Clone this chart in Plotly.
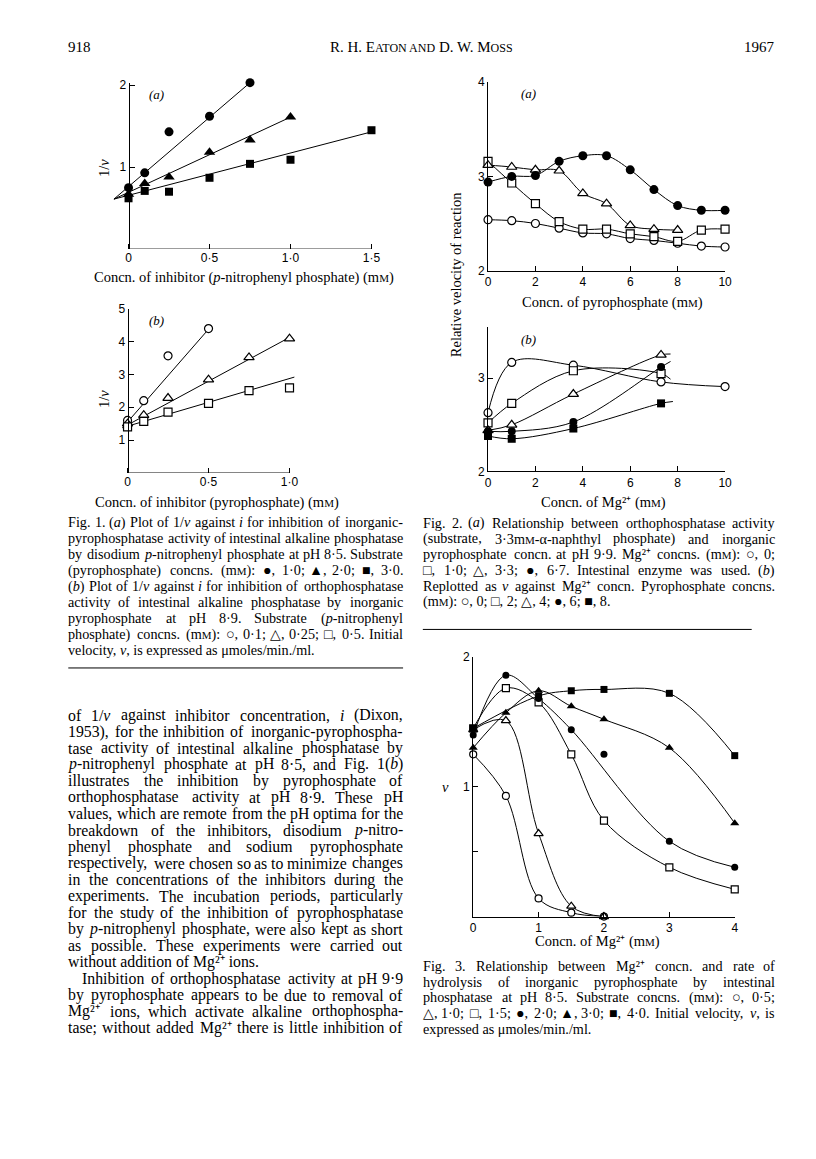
import re
import plotly.graph_objects as go

W, H = 816, 1159
OFF = 8                      # default body margin of the html page
FW, FH = W - OFF, H - OFF    # figure size so the page ends at the window edge

# ---- Fig. 1(a): 1/v vs p-nitrophenyl phosphate (mM)
a_x = [0, 0.1, 0.25, 0.5, 0.75, 1.0, 1.5]
a_pp10 = [0.75, 0.93, 1.43, 1.62, 2.03]              # filled circles
a_pp20 = [0.67, 0.80, 0.88, 1.18, 1.33, 1.61]        # filled triangles
a_pp30 = [0.62, 0.71, 0.70, 0.87, 1.04, 1.09, 1.45]  # filled squares
# drawn regression lines meet at one point left of the axis
a_fit_x0, a_fit_y0 = -0.09, 0.61
a_fit_end = {"pp10": (0.75, 2.03), "pp20": (1.0, 1.61), "pp30": (1.5, 1.43)}

# ---- Fig. 1(b): 1/v vs pyrophosphate (mM)
b_x = [0, 0.1, 0.25, 0.5, 0.75, 1.0]
b_np01 = [1.60, 2.20, 3.57, 4.40]                # open circles
b_np025 = [1.50, 1.76, 2.28, 2.84, 3.52, 4.09]   # open triangles
b_np05 = [1.40, 1.57, 1.85, 2.12, 2.51, 2.59]    # open squares
b_fit_x0, b_fit_y0 = -0.03, 1.38
b_fit_end = {"np01": (0.5, 4.38), "np025": (1.0, 4.13), "np05": (1.03, 2.92)}

# ---- Fig. 2(a): relative velocity vs pyrophosphate (mM)
c_x = [0, 1, 2, 3, 4, 5, 6, 7, 8, 9, 10]
c_mg0 = [2.54, 2.53, 2.50, 2.45, 2.40, 2.39, 2.34, 2.32, 2.29, 2.26, 2.25]
c_mg10 = [3.16, 2.93, 2.71, 2.52, 2.44, 2.44, 2.39, 2.36, 2.31, 2.43, 2.44]
c_mg33 = [3.12, 3.10, 3.07, 3.06, 2.82, 2.71, 2.48, 2.44, 2.43]
c_mg67 = [2.94, 3.00, 3.01, 3.16, 3.22, 3.22, 3.07, 2.86, 2.69, 2.64, 2.64]

# ---- Fig. 2(b): relative velocity vs Mg2+ (mM)
d_x = [0, 1.0, 3.6, 7.3]
d_p0_x = [0, 1.0, 3.6, 7.3, 10]
d_p0 = [2.63, 3.17, 3.14, 2.96, 2.91]
d_p2 = [2.52, 2.73, 3.08, 3.05]
d_p4 = [2.44, 2.50, 2.83, 3.25]
d_p6 = [2.43, 2.43, 2.53, 3.12]
d_p8 = [2.38, 2.35, 2.46, 2.73]
# where the drawn curves stop beyond the last point
d_tail = {"p2": (7.7, 2.99), "p4": (7.7, 3.26), "p6": (7.7, 3.18), "p8": (7.8, 2.75)}

# ---- Fig. 3: v vs Mg2+ (mM)
e_x = [0, 0.5, 1, 1.5, 2, 3, 4]
e_s05 = [1.25, 0.93, 0.14, 0.03, 0.0]
e_s10 = [1.44, 1.51, 0.64, 0.08, 0.0]
e_s15 = [1.45, 1.76, 1.65, 1.25, 0.74, 0.38, 0.21]
e_s20 = [1.40, 1.86, 1.68, 1.44, 1.25, 0.58, 0.38]
e_s20_skip = 4   # point the drawn curve passes by
e_s30 = [1.30, 1.57, 1.74, 1.62, 1.52, 1.30, 0.72]
e_s40_x = [0, 1, 1.5, 2, 3, 4]
e_s40 = [1.45, 1.70, 1.74, 1.75, 1.72, 1.24]

SERIF = "Liberation Serif"
SANS = "Liberation Sans"
tick_font = dict(family=SANS, size=12, color="black")

# Times advance widths (em) to spread words over a justified line
_w = {" ": .25, ".": .25, ",": .25, ":": .278, ";": .278, "(": .333, ")": .333, "-": .333,
      "/": .278, "·": .25, "+": .564, "μ": .5, "α": .5, "²": .3, "⁺": .4}
for ch in "0123456789":
    _w[ch] = .5
for ch, v in zip("abcdefghijklmnopqrstuvwxyz",
                 [.444, .5, .444, .5, .444, .333, .5, .5, .278, .278, .5, .278, .778, .5, .5, .5,
                  .5, .333, .389, .278, .5, .5, .722, .5, .5, .444]):
    _w[ch] = v
for ch, v in zip("ABCDEFGHIJKLMNOPQRSTUVWXYZ",
                 [.722, .667, .667, .722, .611, .556, .722, .722, .333, .389, .722, .611, .889,
                  .722, .722, .556, .722, .667, .556, .611, .722, .722, .944, .722, .722, .611]):
    _w[ch] = v
for ch in "○△□●▲■":
    _w[ch] = .7


def text_width(s, size):
    w, scale = 0.0, 1.0
    for tok in re.split(r"(<[^>]+>)", s):
        if tok.startswith("<"):
            if tok.startswith("<span"):
                scale = float(re.search(r"([\d.]+)px", tok).group(1)) / size
            elif tok == "</span>":
                scale = 1.0
            continue
        for ch in tok:
            w += _w.get(ch, .5) * size * scale
    return w * 1.03


def px(p):
    return (p - OFF) / FW


def py(p):
    return 1 - (p - OFF) / FH


def xdom(v0, p0, k, r):
    return [px(p0 + k * (r[0] - v0)), px(p0 + k * (r[1] - v0))]


def ydom(v0, p0, k, r):
    return [py(p0 - k * (r[0] - v0)), py(p0 - k * (r[1] - v0))]


def mk(sym, filled, size):
    if filled:
        return dict(symbol=sym, size=size, color="black", line=dict(width=0))
    return dict(symbol=sym, size=size, color="white", line=dict(color="black", width=1.2))


fig = go.Figure()
line_style = dict(color="black", width=1)

# fitted straight lines (Fig. 1)
for key in ["pp10", "pp20", "pp30"]:
    ex, ey = a_fit_end[key]
    fig.add_trace(go.Scatter(x=[a_fit_x0, ex], y=[a_fit_y0, ey], mode="lines",
                             line=line_style, xaxis="x", yaxis="y"))
for key in ["np01", "np025", "np05"]:
    ex, ey = b_fit_end[key]
    fig.add_trace(go.Scatter(x=[b_fit_x0, ex], y=[b_fit_y0, ey], mode="lines",
                             line=line_style, xaxis="x2", yaxis="y2"))

# smooth curves (Fig. 2, 3)
for ys in [c_mg0, c_mg10, c_mg33, c_mg67]:
    fig.add_trace(go.Scatter(x=c_x[:len(ys)], y=ys, mode="lines", line_shape="spline",
                             line=line_style, xaxis="x3", yaxis="y3"))

fig.add_trace(go.Scatter(x=d_p0_x, y=d_p0, mode="lines", line_shape="spline",
                         line=line_style, xaxis="x4", yaxis="y4"))
for key, ys in [("p2", d_p2), ("p4", d_p4), ("p6", d_p6), ("p8", d_p8)]:
    tx, ty = d_tail[key]
    fig.add_trace(go.Scatter(x=d_x + [tx], y=ys + [ty], mode="lines", line_shape="spline",
                             line=line_style, xaxis="x4", yaxis="y4"))

for ys in [e_s05, e_s10, e_s15, e_s30]:
    fig.add_trace(go.Scatter(x=e_x[:len(ys)], y=ys, mode="lines", line_shape="spline",
                             line=line_style, xaxis="x5", yaxis="y5"))
s20_cx = [x for i, x in enumerate(e_x) if i != e_s20_skip]
s20_cy = [y for i, y in enumerate(e_s20) if i != e_s20_skip]
fig.add_trace(go.Scatter(x=s20_cx, y=s20_cy, mode="lines", line_shape="spline",
                         line=line_style, xaxis="x5", yaxis="y5"))
fig.add_trace(go.Scatter(x=e_s40_x, y=e_s40, mode="lines", line_shape="spline",
                         line=line_style, xaxis="x5", yaxis="y5"))

# markers on top
pts = [
    ("x", "y", a_x, a_pp10, "circle", True, 9),
    ("x", "y", a_x, a_pp20, "triangle-up", True, 10),
    ("x", "y", a_x, a_pp30, "square", True, 8),
    ("x2", "y2", b_x, b_np01, "circle", False, 8),
    ("x2", "y2", b_x, b_np025, "triangle-up", False, 9),
    ("x2", "y2", b_x, b_np05, "square", False, 8),
    ("x3", "y3", c_x, c_mg0, "circle", False, 8),
    ("x3", "y3", c_x, c_mg10, "square", False, 8),
    ("x3", "y3", c_x, c_mg33, "triangle-up", False, 9),
    ("x3", "y3", c_x, c_mg67, "circle", True, 9),
    ("x4", "y4", d_p0_x, d_p0, "circle", False, 8),
    ("x4", "y4", d_x, d_p2, "square", False, 8),
    ("x4", "y4", d_x, d_p4, "triangle-up", False, 9),
    ("x4", "y4", d_x, d_p6, "circle", True, 8),
    ("x4", "y4", d_x, d_p8, "square", True, 8),
    ("x5", "y5", e_x, e_s05, "circle", False, 7),
    ("x5", "y5", e_x, e_s10, "triangle-up", False, 8),
    ("x5", "y5", e_x, e_s15, "square", False, 7),
    ("x5", "y5", e_x, e_s20, "circle", True, 7),
    ("x5", "y5", e_x, e_s30, "triangle-up", True, 8),
    ("x5", "y5", e_s40_x, e_s40, "square", True, 7),
]
for xa, ya, xs, ys, sym, filled, size in pts:
    fig.add_trace(go.Scatter(x=xs[:len(ys)], y=ys, mode="markers", marker=mk(sym, filled, size),
                             cliponaxis=False, xaxis=xa, yaxis=ya))

ax_common = dict(showgrid=False, zeroline=False, ticks="inside", ticklen=5, tickwidth=1,
                 tickcolor="black", tickfont=tick_font, linecolor="black", linewidth=1, mirror=False)

r1a_x, r1a_y = [-0.095, 1.52], [0, 2.03]
r1b_x, r1b_y = [-0.035, 1.04], [0, 5.0]
r2_x = [0, 10]
r2a_y, r2b_y = [2, 4], [2, 3.55]
r3_x, r3_y = [0, 4], [0, 2]

fig.update_layout(
    xaxis=dict(ax_common, domain=xdom(0, 127, 164, r1a_x), range=r1a_x, anchor="y", showline=False,
               tickvals=[0, 0.5, 1, 1.5], ticktext=["0", "0·5", "1·0", "1·5"]),
    yaxis=dict(ax_common, domain=ydom(0, 245, 83, r1a_y), range=r1a_y, anchor="free",
               position=px(127), showline=True, tickvals=[1, 2], ticktext=["1", "2"]),
    xaxis2=dict(ax_common, domain=xdom(0, 126, 164, r1b_x), range=r1b_x, anchor="y2", showline=False,
                tickvals=[0, 0.5, 1], ticktext=["0", "0·5", "1·0"]),
    yaxis2=dict(ax_common, domain=ydom(0, 471.5, 33.2, r1b_y), range=r1b_y, anchor="free",
                position=px(126), showline=True, tickvals=[1, 2, 3, 4, 5]),
    xaxis3=dict(ax_common, domain=xdom(0, 491, 24, r2_x), range=r2_x, anchor="y3", showline=True,
                tickvals=[0, 2, 4, 6, 8, 10]),
    yaxis3=dict(ax_common, domain=ydom(2, 266.7, 95.3, r2a_y), range=r2a_y, anchor="x3", showline=True,
                tickvals=[2, 3, 4]),
    xaxis4=dict(ax_common, domain=xdom(0, 491, 24, r2_x), range=r2_x, anchor="y4", showline=True,
                tickvals=[0, 2, 4, 6, 8, 10]),
    yaxis4=dict(ax_common, domain=ydom(2, 470, 94.3, r2b_y), range=r2b_y, anchor="x4", showline=True,
                tickvals=[2, 3]),
    xaxis5=dict(ax_common, domain=xdom(0, 476, 66.2, r3_x), range=r3_x, anchor="y5", showline=True,
                tickvals=[0, 1, 2, 3, 4]),
    yaxis5=dict(ax_common, domain=ydom(0, 920.7, 131.4, r3_y), range=r3_y, anchor="x5", showline=True,
                tickvals=[1, 2],
                minor=dict(tickvals=[0.5], ticks="inside", ticklen=5, tickcolor="black", showgrid=False)),
)

# x-axis baselines of Fig. 1 (start at the origin, the fitted lines run past it)
fig.add_shape(type="line", xref="x", yref="y", x0=0, x1=1.5, y0=0, y1=0, line=line_style)
fig.add_shape(type="line", xref="x2", yref="y2", x0=0, x1=1.0, y0=0, y1=0, line=line_style)

# rules between captions and text
fig.add_shape(type="line", xref="paper", yref="paper", x0=px(66), x1=px(405),
              y0=py(669), y1=py(669), line=dict(color="black", width=1))
fig.add_shape(type="line", xref="paper", yref="paper", x0=px(425), x1=px(758),
              y0=py(630), y1=py(630), line=dict(color="black", width=1))


def mm(size):
    return "m<span style='font-size:%dpx'>M</span>" % round(size * 0.74)


def note(text, x, y, size=12, anchor="left", angle=0, family=SERIF):
    fig.add_annotation(text=text, x=px(x), y=py(y), xref="paper", yref="paper",
                       xanchor=anchor, yanchor="middle", showarrow=False, textangle=angle,
                       borderpad=0, borderwidth=0, font=dict(family=family, size=size, color="black"))


def block(lines, x0, x1, y0, dy, size, ends=(), indents=None):
    indents = indents or {}
    for i, line in enumerate(lines):
        y = y0 + dy * i
        ind = indents.get(i, 0)
        words = re.findall(r"(?:<[^>]*>|[^\s<])+", line)
        if i in ends or len(words) < 2:
            note(line, x0 + ind, y, size)
            continue
        widths = [text_width(w, size) for w in words]
        gap = (x1 - x0 - ind - sum(widths)) / (len(words) - 1)
        x = x0 + ind
        last = len(words) - 1
        for j, (w, ww) in enumerate(zip(words, widths)):
            if j == 0:
                note(w, x, y, size)
            elif j == last:
                note(w, x1, y, size, anchor="right")
            else:
                note(w, x + ww / 2, y, size, anchor="center")
            x += ww + gap


# header
note("918", 66, 40, size=15)
note("R. H. E<span style='font-size:12px'>ATON AND</span> D. W. M<span style='font-size:12px'>OSS</span>",
     424, 40, size=15, anchor="center")
note("1967", 782, 40, size=15, anchor="right")

# panel letters and axis titles
TS = 14.5
note("<i>(a)</i>", 155, 88, size=13, anchor="center")
note("<i>(b)</i>", 155, 317, size=13, anchor="center")
note("<i>(a)</i>", 532, 87, size=13, anchor="center")
note("<i>(b)</i>", 532, 337, size=13, anchor="center")
note("1/<i>v</i>", 102, 163, size=TS, anchor="center", angle=-90)
note("1/<i>v</i>", 102, 397, size=TS, anchor="center", angle=-90)
note("Relative velocity of reaction", 458, 271, size=TS, anchor="center", angle=-90)
note("<i>v</i>", 448, 789, size=TS, anchor="center")
note("Concn. of inhibitor (<i>p</i>-nitrophenyl phosphate) (" + mm(TS) + ")", 244, 274, size=TS, anchor="center")
note("Concn. of inhibitor (pyrophosphate) (" + mm(TS) + ")", 217, 501, size=TS, anchor="center")
note("Concn. of pyrophosphate (" + mm(TS) + ")", 617, 299, size=TS, anchor="center")
note("Concn. of Mg²⁺ (" + mm(TS) + ")", 608, 501, size=TS, anchor="center")
note("Concn. of Mg²⁺ (" + mm(TS) + ")", 602, 946, size=TS, anchor="center")

CS = 14.2   # caption size
BS = 15.8   # body size

fig1_caption = [
    "Fig. 1. (<i>a</i>) Plot of 1/<i>v</i> against <i>i</i> for inhibition of inorganic-",
    "pyrophosphatase activity of intestinal alkaline phosphatase",
    "by disodium <i>p</i>-nitrophenyl phosphate at pH 8·5. Substrate",
    "(pyrophosphate) concns. (" + mm(CS) + "): ●, 1·0; ▲, 2·0; ■, 3·0.",
    "(<i>b</i>) Plot of 1/<i>v</i> against <i>i</i> for inhibition of orthophosphatase",
    "activity of intestinal alkaline phosphatase by inorganic",
    "pyrophosphate at pH 8·9. Substrate (<i>p</i>-nitrophenyl",
    "phosphate) concns. (" + mm(CS) + "): ○, 0·1; △, 0·25; □, 0·5. Initial",
    "velocity, <i>v</i>, is expressed as μmoles/min./ml.",
]
block(fig1_caption, 66, 405, 521.7, 16.2, CS, ends=(8,))

fig2_caption = [
    "Fig. 2. (<i>a</i>) Relationship between orthophosphatase activity",
    "(substrate, 3·3" + mm(CS) + "-α-naphthyl phosphate) and inorganic",
    "pyrophosphate concn. at pH 9·9. Mg²⁺ concns. (" + mm(CS) + "): ○, 0;",
    "□, 1·0; △, 3·3; ●, 6·7. Intestinal enzyme was used. (<i>b</i>)",
    "Replotted as <i>v</i> against Mg²⁺ concn. Pyrophosphate concns.",
    "(" + mm(CS) + "): ○, 0; □, 2; △, 4; ●, 6; ■, 8.",
]
block(fig2_caption, 425, 782, 522, 16, CS, ends=(5,))

fig3_caption = [
    "Fig. 3. Relationship between Mg²⁺ concn. and rate of",
    "hydrolysis of inorganic pyrophosphate by intestinal",
    "phosphatase at pH 8·5. Substrate concns. (" + mm(CS) + "): ○, 0·5;",
    "△, 1·0; □, 1·5; ●, 2·0; ▲, 3·0; ■, 4·0. Initial velocity, <i>v</i>, is",
    "expressed as μmoles/min./ml.",
]
block(fig3_caption, 425, 782, 970.5, 16, CS, ends=(4,))

body = [
    "of 1/<i>v</i> against inhibitor concentration, <i>i</i> (Dixon,",
    "1953), for the inhibition of inorganic-pyrophospha-",
    "tase activity of intestinal alkaline phosphatase by",
    "<i>p</i>-nitrophenyl phosphate at pH 8·5, and Fig. 1(<i>b</i>)",
    "illustrates the inhibition by pyrophosphate of",
    "orthophosphatase activity at pH 8·9. These pH",
    "values, which are remote from the pH optima for the",
    "breakdown of the inhibitors, disodium <i>p</i>-nitro-",
    "phenyl phosphate and sodium pyrophosphate",
    "respectively, were chosen so as to minimize changes",
    "in the concentrations of the inhibitors during the",
    "experiments. The incubation periods, particularly",
    "for the study of the inhibition of pyrophosphatase",
    "by <i>p</i>-nitrophenyl phosphate, were also kept as short",
    "as possible. These experiments were carried out",
    "without addition of Mg²⁺ ions.",
    "Inhibition of orthophosphatase activity at pH 9·9",
    "by pyrophosphate appears to be due to removal of",
    "Mg²⁺ ions, which activate alkaline orthophospha-",
    "tase; without added Mg²⁺ there is little inhibition of",
]
block(body, 66, 405, 716.7, 16.67, BS, ends=(15,), indents={16: 14})

fig.update_layout(
    width=FW, height=FH, margin=dict(l=0, r=0, t=0, b=0),
    paper_bgcolor="white", plot_bgcolor="rgba(0,0,0,0)", showlegend=False,
)

fig.write_html("out.html")
